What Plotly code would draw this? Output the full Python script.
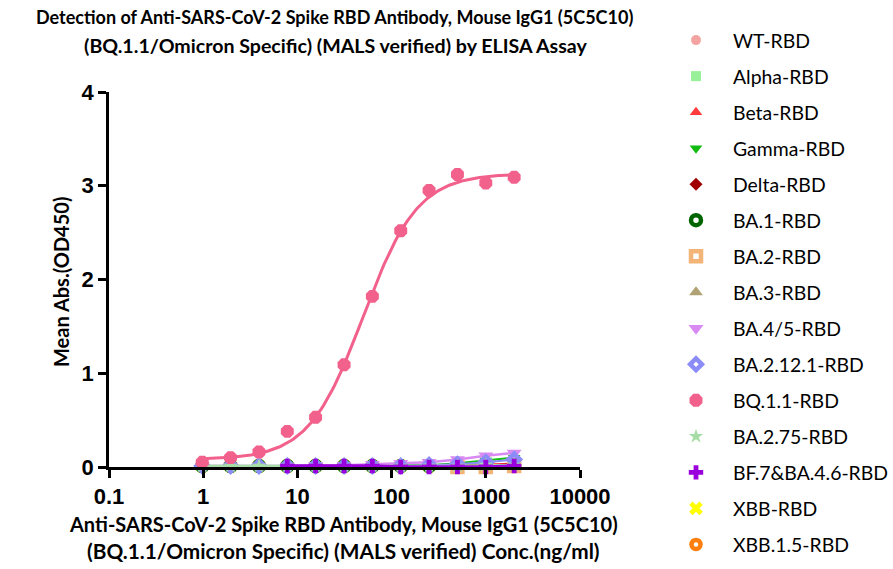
import numpy as np
import plotly.graph_objects as go

conc = [0.977, 1.95, 3.91, 7.81, 15.6, 31.3, 62.5, 125, 250, 500, 1000, 2000]

series_names = ["WT-RBD", "Alpha-RBD", "Beta-RBD", "Gamma-RBD", "Delta-RBD", "BA.1-RBD",
                "BA.2-RBD", "BA.3-RBD", "BA.4/5-RBD", "BA.2.12.1-RBD", "BQ.1.1-RBD",
                "BA.2.75-RBD", "BF.7&BA.4.6-RBD", "XBB-RBD", "XBB.1.5-RBD"]

wt = [0.01, 0.01, 0.01, 0.01, 0.01, 0.01, 0.01, 0.01, 0.01, 0.02, 0.02, 0.03]
alpha = [0.01, 0.01, 0.01, 0.01, 0.01, 0.01, 0.01, 0.01, 0.01, 0.01, 0.02, 0.03]
beta = [0.01, 0.01, 0.01, 0.01, 0.01, 0.01, 0.01, 0.01, 0.02, 0.02, 0.03, 0.04]
gamma = [0.01, 0.01, 0.01, 0.01, 0.01, 0.01, 0.01, 0.02, 0.02, 0.04, 0.07, 0.10]
delta = [0.01, 0.01, 0.01, 0.01, 0.01, 0.01, 0.01, 0.01, 0.01, 0.02, 0.02, 0.03]
ba1 = [0.01, 0.01, 0.01, 0.01, 0.01, 0.01, 0.01, 0.01, 0.01, 0.01, 0.02, 0.02]
ba2 = [-0.01, -0.01, -0.01, -0.01, -0.01, -0.01, -0.01, -0.01, -0.01, 0.00, 0.00, 0.01]
ba3 = [-0.02, -0.02, -0.02, -0.02, -0.02, -0.02, -0.02, -0.02, -0.02, -0.02, -0.01, -0.01]
ba45 = [0.01, 0.01, 0.01, 0.01, 0.02, 0.02, 0.03, 0.04, 0.05, 0.08, 0.12, 0.15]
ba2121 = [0.01, 0.01, 0.01, 0.01, 0.01, 0.01, 0.01, 0.01, 0.02, 0.03, 0.05, 0.08]
bq11 = [0.05, 0.10, 0.16, 0.38, 0.53, 1.09, 1.82, 2.52, 2.95, 3.12, 3.03, 3.09]
ba275 = [0.01, 0.01, 0.01, 0.01, 0.01, 0.01, 0.01, 0.01, 0.01, 0.01, 0.02, 0.02]
bf7 = [None, None, None, 0.01, 0.01, 0.01, 0.01, 0.00, 0.00, 0.00, 0.00, 0.01]
xbb = [0.01, 0.01, 0.01, 0.01, 0.01, 0.01, 0.01, 0.01, 0.01, 0.01, 0.01, 0.02]
xbb15 = [0.01, 0.01, 0.01, 0.01, 0.01, 0.01, 0.01, 0.01, 0.01, 0.01, 0.02, 0.02]

# 4PL fit parameters for the BQ.1.1 curve
fit_bottom, fit_top, fit_ec50, fit_hill = 0.08, 3.13, 50.0, 1.5

x_ticks = [0.1, 1, 10, 100, 1000, 10000]
x_ticktext = ["0.1", "1", "10", "100", "1000", "10000"]
y_ticks = [0, 1, 2, 3, 4]

values = [wt, alpha, beta, gamma, delta, ba1, ba2, ba3, ba45, ba2121, bq11, ba275, bf7, xbb, xbb15]
colors = ["#F4A3A3", "#98F098", "#FF3B3B", "#11BB11", "#A00000", "#006400", "#F2B477",
          "#B0A275", "#D98AF2", "#8C8CF8", "#F2608C", "#A6DCA6", "#9A00DC", "#FFFF00", "#FF7F0E"]
symbols = ["circle", "square", "triangle-up", "triangle-down", "diamond", "circle-open",
           "square-open", "triangle-up", "triangle-down", "diamond-open", "octagon",
           "star", "cross", "x", "circle-open"]
sizes = [10, 10, 11, 11, 10, 10, 10, 12, 13, 9, 14, 11, 12, 12, 9]
line_w = [1.5, 2.5, 1.5, 2, 1.5, 1.5, 1.5, 1.5, 2.5, 2, 3, 2.5, 3.5, 1.5, 1.5]
# drawing order (bottom to top)
draw_order = ["XBB-RBD", "XBB.1.5-RBD", "WT-RBD", "Alpha-RBD", "Beta-RBD", "Delta-RBD",
              "BA.1-RBD", "Gamma-RBD", "BA.3-RBD", "BA.2-RBD", "BA.4/5-RBD",
              "BA.2.12.1-RBD", "BA.2.75-RBD", "BF.7&BA.4.6-RBD", "BQ.1.1-RBD"]


def marker_for(i):
    s = symbols[i]
    mline = dict(width=4.5, color=colors[i]) if s.endswith("open") else dict(width=0)
    return dict(symbol=s, size=sizes[i], color=colors[i], line=mline)


fig = go.Figure()

# legend entries (markers only)
for i, name in enumerate(series_names):
    fig.add_trace(go.Scatter(x=[None], y=[None], mode="markers", name=name,
                             marker=marker_for(i), showlegend=True, legendgroup=name))

for name in draw_order:
    i = series_names.index(name)
    if name == "BQ.1.1-RBD":
        xf = np.logspace(np.log10(conc[0]), np.log10(conc[-1]), 200)
        yf = fit_bottom + (fit_top - fit_bottom) / (1 + (fit_ec50 / xf) ** fit_hill)
        fig.add_trace(go.Scatter(x=xf, y=yf, mode="lines", line=dict(color=colors[i], width=line_w[i]),
                                 showlegend=False, hoverinfo="skip", cliponaxis=False))
        fig.add_trace(go.Scatter(x=conc, y=values[i], mode="markers", showlegend=False,
                                 marker=marker_for(i), cliponaxis=False))
    else:
        fig.add_trace(go.Scatter(x=conc, y=values[i], mode="lines+markers", showlegend=False,
                                 line=dict(color=colors[i], width=line_w[i]),
                                 marker=marker_for(i), cliponaxis=False))

L, T, R, B = 109, 92, 580, 467
W, H = R - L, B - T


def px(x):
    return (x - L) / W


def py(y):
    return (B - y) / H


bold_font = dict(family="Lato", color="black")
annotations = [
    dict(text="<b>Detection of Anti-SARS-CoV-2 Spike RBD Antibody, Mouse IgG1 (5C5C10)</b>",
         x=px(334), y=py(17), font=dict(size=18, **bold_font)),
    dict(text="<b>(BQ.1.1/Omicron Specific) (MALS verified) by ELISA Assay</b>",
         x=px(336), y=py(45), font=dict(size=19.6, **bold_font)),
    dict(text="<b>Anti-SARS-CoV-2 Spike RBD Antibody, Mouse IgG1 (5C5C10)</b>",
         x=px(343), y=py(524), font=dict(size=20, **bold_font)),
    dict(text="<b>(BQ.1.1/Omicron Specific) (MALS verified) Conc.(ng/ml)</b>",
         x=px(343), y=py(550), font=dict(size=20.8, **bold_font)),
    dict(text="<b>Mean Abs.(OD450)</b>", textangle=-90,
         x=px(61), y=py(282), font=dict(size=20, **bold_font)),
]
for a in annotations:
    a.update(xref="paper", yref="paper", xanchor="center", yanchor="middle", showarrow=False)

tickfont = dict(family="Arial, Liberation Sans", size=22, color="black", weight="bold")

fig.update_layout(
    width=893, height=569,
    paper_bgcolor="white", plot_bgcolor="white",
    margin=dict(l=L, r=893 - R, t=T, b=569 - B, autoexpand=False),
    font=dict(family="Lato", color="black"),
    annotations=annotations,
    xaxis=dict(type="log", range=[-1, 4], tickvals=x_ticks, ticktext=x_ticktext,
               showgrid=False, zeroline=False, showline=True, linecolor="black", linewidth=2.5,
               ticks="outside", ticklen=8, tickwidth=2.5, tickcolor="black", tickfont=tickfont),
    yaxis=dict(range=[0, 4], tickvals=y_ticks,
               showgrid=False, zeroline=False, showline=True, linecolor="black", linewidth=2.5,
               ticks="outside", ticklen=8, tickwidth=2.5, tickcolor="black", tickfont=tickfont),
    legend=dict(x=px(659), xanchor="left", y=py(21), yanchor="top",
                font=dict(family="Lato", size=19.4, color="black"),
                tracegroupgap=7.8, itemwidth=64, bgcolor="rgba(0,0,0,0)", maxheight=1),
)

fig.write_html("out.html", post_script="document.body.style.margin='0';",
               config={"displayModeBar": False})
